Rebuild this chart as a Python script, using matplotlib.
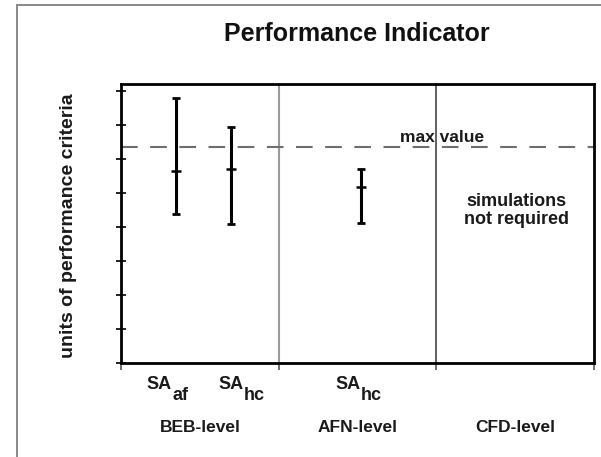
import matplotlib
matplotlib.use("Agg")
import matplotlib.pyplot as plt
from matplotlib.patches import Rectangle

plt.rcParams["font.family"] = ["Liberation Sans", "DejaVu Sans"]

# ── Data ───────────────────────────────────────────────────────
levels      = ["BEB-level", "AFN-level", "CFD-level"]
bar_x       = [0.35, 0.70, 1.52]
bar_mid     = [5.64, 5.69, 5.17]
bar_low     = [4.38, 4.10, 4.12]
bar_high    = [7.79, 6.94, 5.71]
sa_subs     = ["af", "hc", "hc"]
sa_label_x  = [0.322, 0.777, 1.518]
max_value   = 6.34
y_ticks     = [0, 1, 2, 3, 4, 5, 6, 7, 8]
level_edges = [0, 1, 2, 3]

TXT = "#1a1a1a"

fig = plt.figure(figsize=(6.01, 4.57), dpi=100)
fig.patch.set_facecolor("white")

# outer frame (right/bottom edges run off the picture)
fig.patches.append(Rectangle((17 / 601, -0.02), 1.0, 1 - 5 / 457 + 0.02,
                             transform=fig.transFigure, fill=False,
                             edgecolor="#808080", linewidth=1.3))

ax = fig.add_axes([121 / 601, 1 - 363.3 / 457, 473 / 601, 279.3 / 457])
ax.set_xlim(0, 3)
ax.set_ylim(0, 8.2)

for s in ax.spines.values():
    s.set_linewidth(2.0)
    s.set_color("black")

# ── Level dividers + max line ──────────────────────────────────
ax.axvline(level_edges[1], color="#9a9a9a", linewidth=1.5)
ax.axvline(level_edges[2], color="#454545", linewidth=1.2)
ax.axhline(max_value, color="#6e6e6e", linewidth=1.5, dashes=(8, 6))

ax.text(2.034, max_value + 0.17, "max value", ha="center", va="baseline",
        fontsize=12.5, fontweight="bold", color=TXT)
ax.text(2.51, 4.48, "simulations\nnot required", ha="center", va="center",
        fontsize=13, fontweight="bold", color=TXT, linespacing=1.05)

# ── Error bars ─────────────────────────────────────────────────
for x, m, lo, hi in zip(bar_x, bar_mid, bar_low, bar_high):
    ax.errorbar([x], [m], yerr=[[m - lo], [hi - m]], fmt="none",
                ecolor="black", elinewidth=2.2, capsize=2.8, capthick=2.0)
    ax.plot([x], [m], marker="_", color="black", markersize=6.5, mew=1.8)

# ── Ticks ──────────────────────────────────────────────────────
ax.set_yticks(y_ticks)
ax.set_yticklabels([])
ax.tick_params(axis="y", direction="inout", length=7, width=1.2)
ax.set_xticks(level_edges)
ax.set_xticklabels([])
ax.tick_params(axis="x", direction="out", length=5, width=1.2, color="#555555")

# SA labels with same-size subscripts
for x, sub in zip(sa_label_x, sa_subs):
    ax.annotate("SA", xy=(x, 0), xycoords=("data", "axes fraction"),
                xytext=(0, -9.5), textcoords="offset points",
                ha="right", va="top", fontsize=13, fontweight="bold", color=TXT)
    ax.annotate(sub, xy=(x, 0), xycoords=("data", "axes fraction"),
                xytext=(0.5, -17), textcoords="offset points",
                ha="left", va="top", fontsize=13, fontweight="bold", color=TXT)

for i, lbl in enumerate(levels):
    ax.annotate(lbl, xy=(i + 0.5, 0), xycoords=("data", "axes fraction"),
                xytext=(0, -41), textcoords="offset points",
                ha="center", va="top", fontsize=12.5, fontweight="bold",
                color=TXT)

fig.text(68.5 / 601, 1 - 226 / 457, "units of performance criteria",
         rotation=90, ha="center", va="center", fontsize=14,
         fontweight="bold", color=TXT)

fig.text(357 / 601, 1 - 34 / 457, "Performance Indicator", ha="center",
         va="center", fontsize=18, fontweight="bold", color="#111111")

fig.savefig("out.png", dpi=100, facecolor="white")
